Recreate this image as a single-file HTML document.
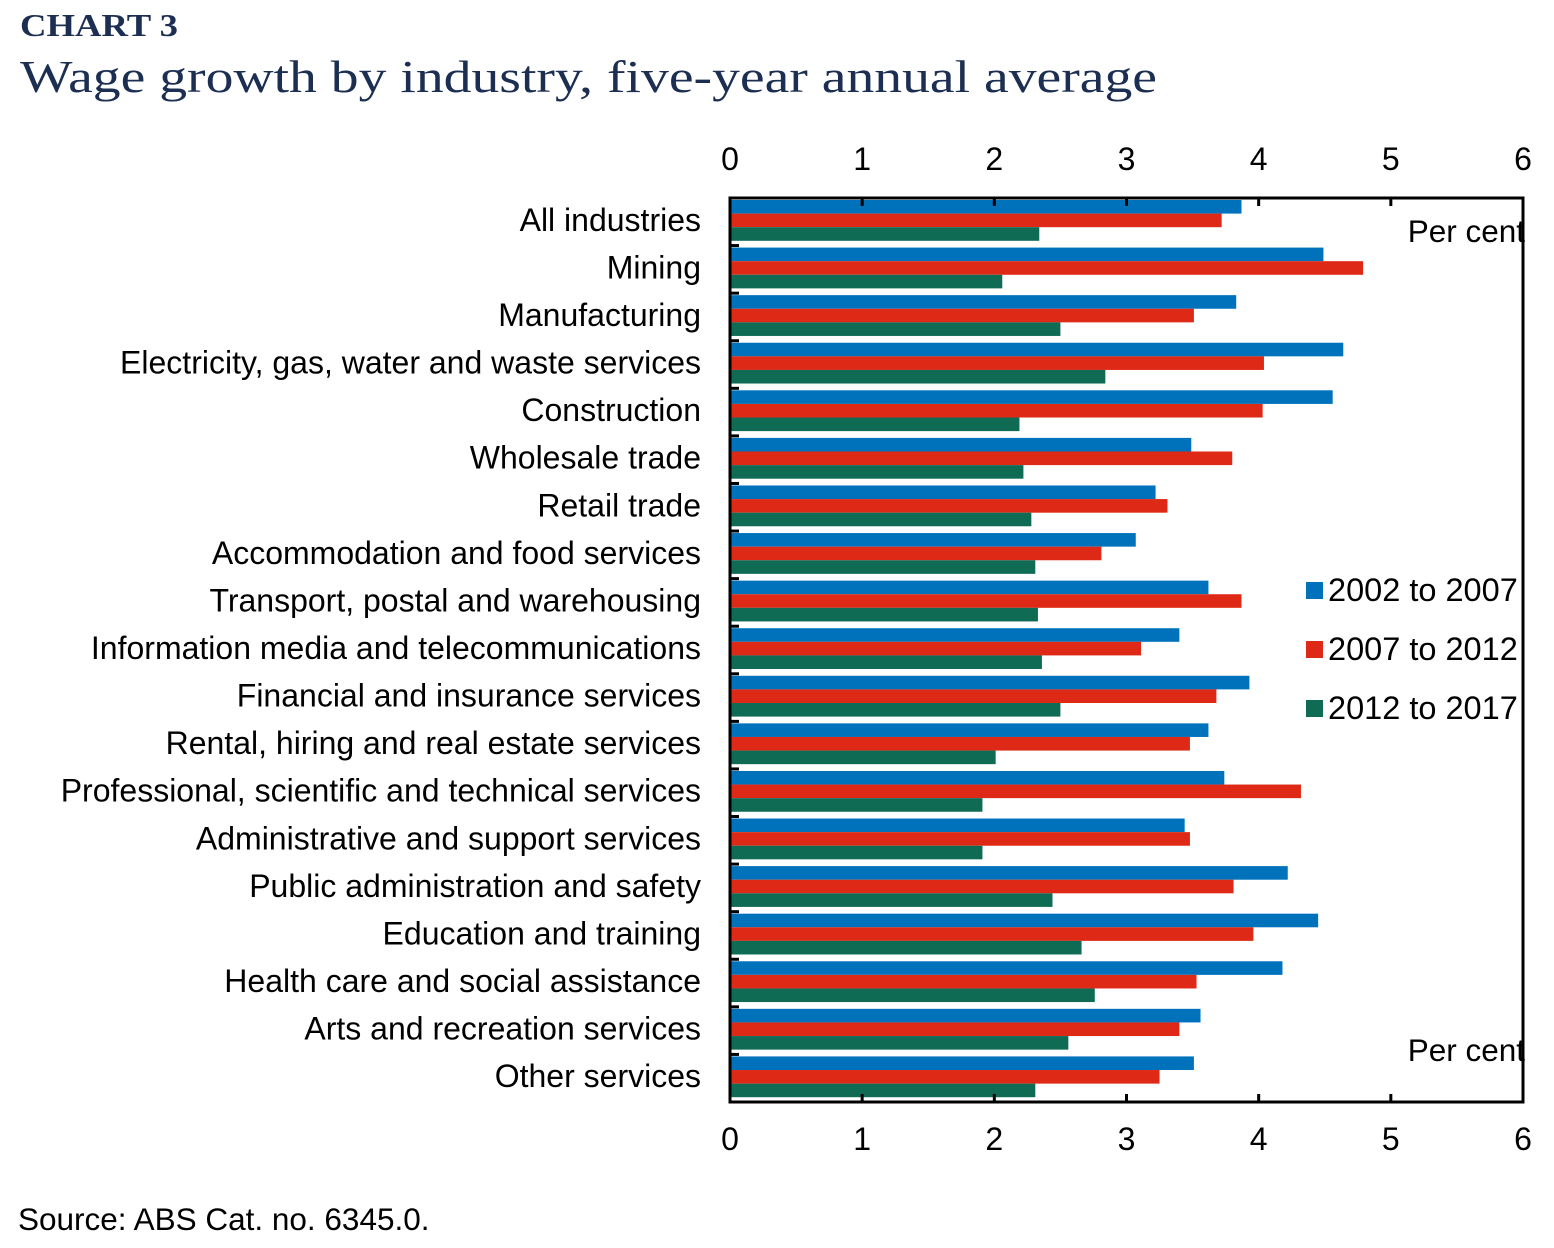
<!DOCTYPE html>
<html><head><meta charset="utf-8"><style>
body{margin:0;background:#fff;width:1554px;height:1243px;overflow:hidden;font-family:"Liberation Sans",sans-serif}
</style></head><body>
<svg width="1554" height="1243" xmlns="http://www.w3.org/2000/svg">
<text x="20" y="36" font-family="Liberation Serif,serif" font-weight="bold" font-size="32" fill="#1c2f52" textLength="158" lengthAdjust="spacingAndGlyphs">CHART 3</text>
<text x="20" y="92" font-family="Liberation Serif,serif" font-size="46" fill="#1c2f52" textLength="1137" lengthAdjust="spacingAndGlyphs">Wage growth by industry, five-year annual average</text>
<g id="plot"></g>
<text x="18" y="1230" font-size="31.5" fill="#000">Source: ABS Cat. no. 6345.0.</text>
</svg>
<script>
const categories=["All industries","Mining","Manufacturing","Electricity, gas, water and waste services","Construction","Wholesale trade","Retail trade","Accommodation and food services","Transport, postal and warehousing","Information media and telecommunications","Financial and insurance services","Rental, hiring and real estate services","Professional, scientific and technical services","Administrative and support services","Public administration and safety","Education and training","Health care and social assistance","Arts and recreation services","Other services"];
const s2002=[3.87,4.49,3.83,4.64,4.56,3.49,3.22,3.07,3.62,3.40,3.93,3.62,3.74,3.44,4.22,4.45,4.18,3.56,3.51];
const s2007=[3.72,4.79,3.51,4.04,4.03,3.80,3.31,2.81,3.87,3.11,3.68,3.48,4.32,3.48,3.81,3.96,3.53,3.40,3.25];
const s2012=[2.34,2.06,2.50,2.84,2.19,2.22,2.28,2.31,2.33,2.36,2.50,2.01,1.91,1.91,2.44,2.66,2.76,2.56,2.31];
const tickLabels=["0","1","2","3","4","5","6"];
const seriesNames=["2002 to 2007","2007 to 2012","2012 to 2017"];
const NS="http://www.w3.org/2000/svg";
const g=document.getElementById('plot');
const L=730,R=1523,T=198,B=1102;
const x=v=>L+v/6*(R-L);
const band=(B-T)/categories.length;
const y=i=>T+i*band;
function mk(t,a){const e=document.createElementNS(NS,t);for(const k in a)e.setAttribute(k,a[k]);g.appendChild(e);return e;}
const colors=["#0072BC","#DE2916","#106B55"];
const series=[s2002,s2007,s2012];
categories.forEach((c,i)=>{
  series.forEach((s,j)=>{
    const r=mk('rect',{x:L,y:y(i)+2+j*13.6,width:x(s[i])-L,height:13.6,fill:colors[j]});
    
    
  });
  const t=mk('text',{x:701,y:y(i)+band/2+9,'text-anchor':'end','font-size':32,fill:'#000'});
  t.textContent=c;
  
  
  if(i>0){mk('line',{x1:L,x2:L+9,y1:y(i),y2:y(i),stroke:'#000','stroke-width':3});}
});
mk('rect',{x:L,y:T,width:R-L,height:B-T,fill:'none',stroke:'#000','stroke-width':3});
tickLabels.forEach((lab,k)=>{
  const xv=x(k);
  mk('line',{x1:xv,x2:xv,y1:T,y2:T+8,stroke:'#000','stroke-width':3});
  mk('line',{x1:xv,x2:xv,y1:B,y2:B-8,stroke:'#000','stroke-width':3});
  const a=mk('text',{x:xv,y:170,'text-anchor':'middle','font-size':32});a.textContent=lab;
  
  
  const b=mk('text',{x:xv,y:1150,'text-anchor':'middle','font-size':32});b.textContent=lab;
  
  
});
[[242,'unit-label-top'],[1061,'unit-label-bottom']].forEach(([yy,n])=>{
  const t=mk('text',{x:1525,y:yy,'text-anchor':'end','font-size':31.5});t.textContent='Per cent';
  
  
});
seriesNames.forEach((n,j)=>{
  const yy=590+j*59;
  mk('rect',{x:1306,y:yy-8,width:17,height:17,fill:colors[j]});
  const t=mk('text',{x:1328,y:yy+11,'font-size':32.5});t.textContent=n;
  
  
});
</script>
</body></html>
